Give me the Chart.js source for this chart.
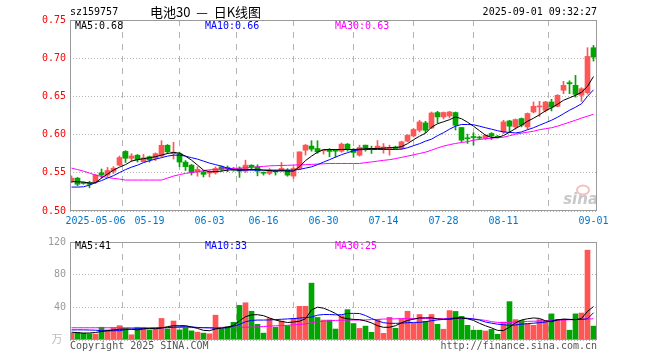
<!DOCTYPE html>
<html>
<head>
<meta charset="utf-8">
<script src="https://cdn.jsdelivr.net/npm/chart.js@4.4.1/dist/chart.umd.min.js"></script>
<style>
  body { margin: 0; background: #fff; }
  #wrap { position: relative; width: 660px; height: 360px; }
  canvas { position: absolute; left: 0; }
  #kline { top: 0; }
  #vol { top: 232px; }
</style>
</head>
<body>
<div id="wrap">
  <canvas id="kline" width="660" height="232"></canvas>
  <canvas id="vol" width="660" height="128"></canvas>
</div>
<script>
// trading days shown on the chart
const dates = ['2025-04-25','2025-04-28','2025-04-29','2025-04-30','2025-05-06','2025-05-07','2025-05-08','2025-05-09',
  '2025-05-12','2025-05-13','2025-05-14','2025-05-15','2025-05-16','2025-05-19','2025-05-20','2025-05-21','2025-05-22','2025-05-23',
  '2025-05-26','2025-05-27','2025-05-28','2025-05-29','2025-05-30','2025-06-03','2025-06-04','2025-06-05','2025-06-06',
  '2025-06-09','2025-06-10','2025-06-11','2025-06-12','2025-06-13','2025-06-16','2025-06-17','2025-06-18','2025-06-19','2025-06-20',
  '2025-06-23','2025-06-24','2025-06-25','2025-06-26','2025-06-27','2025-06-30','2025-07-01','2025-07-02','2025-07-03','2025-07-04',
  '2025-07-07','2025-07-08','2025-07-09','2025-07-10','2025-07-11','2025-07-14','2025-07-15','2025-07-16','2025-07-17','2025-07-18',
  '2025-07-21','2025-07-22','2025-07-23','2025-07-24','2025-07-25','2025-07-28','2025-07-29','2025-07-30','2025-07-31','2025-08-01',
  '2025-08-04','2025-08-05','2025-08-06','2025-08-07','2025-08-08','2025-08-11','2025-08-12','2025-08-13','2025-08-14','2025-08-15',
  '2025-08-18','2025-08-19','2025-08-20','2025-08-21','2025-08-22','2025-08-25','2025-08-26','2025-08-27','2025-08-28','2025-08-29',
  '2025-09-01'];

const tickDates = ['2025-05-06','2025-05-19','2025-06-03','2025-06-16','2025-06-30','2025-07-14','2025-07-28','2025-08-11','2025-09-01'];
const tickLabels = ['2025-05-06','05-19','06-03','06-16','06-30','07-14','07-28','08-11','09-01'];
const priceTicks = [0.50, 0.55, 0.60, 0.65, 0.70, 0.75];
const volTicks = [0, 40, 80, 120];

const open = [0.539,0.543,0.537,0.537,0.538,0.550,0.547,0.552,0.560,0.578,0.569,0.573,0.5645,0.571,0.569,0.572,0.586,0.575,0.575,0.564,
  0.560,0.5513,0.5513,0.5495,0.550,0.5578,0.557,0.5545,0.5557,0.5522,0.560,0.5578,0.5505,0.5492,0.5522,0.5522,0.5535,0.5457,0.5557,0.5796,
  0.585,0.5818,0.5788,0.5796,0.5796,0.5783,0.5875,0.5796,0.5731,0.5862,0.5818,0.5818,0.5818,0.5818,0.5838,0.5818,0.5914,0.5983,0.6057,0.6153,
  0.6087,0.6289,0.6231,0.6244,0.6289,0.6093,0.5953,0.5975,0.596,0.5949,0.6014,0.5975,0.6035,0.6179,0.610,0.621,0.610,0.6296,0.6362,0.6318,
  0.6427,0.637,0.658,0.668,0.6645,0.6515,0.655,0.7137];
const close = [0.543,0.535,0.536,0.535,0.547,0.547,0.553,0.556,0.570,0.569,0.572,0.567,0.5695,0.567,0.575,0.586,0.5775,0.577,0.564,0.558,
  0.5505,0.5544,0.548,0.551,0.5557,0.5544,0.555,0.5535,0.5522,0.560,0.5578,0.5522,0.5495,0.5535,0.5513,0.5557,0.547,0.5557,0.5774,0.5862,
  0.581,0.5774,0.5796,0.578,0.5783,0.5875,0.581,0.5766,0.5831,0.5826,0.5805,0.5849,0.5838,0.5831,0.5818,0.5905,0.599,0.6067,0.6166,0.6057,
  0.6283,0.6231,0.6289,0.6296,0.6123,0.5927,0.5945,0.5962,0.5955,0.599,0.598,0.5965,0.6166,0.611,0.6197,0.6123,0.6276,0.637,0.637,0.6427,
  0.636,0.6514,0.6645,0.6665,0.6527,0.660,0.7023,0.7014];
const high = [0.546,0.544,0.538,0.539,0.548,0.555,0.557,0.558,0.572,0.579,0.575,0.574,0.574,0.572,0.576,0.592,0.587,0.590,0.577,0.566,
  0.561,0.558,0.553,0.553,0.5578,0.559,0.559,0.557,0.5578,0.5665,0.5605,0.5605,0.551,0.5555,0.5535,0.5635,0.5555,0.5578,0.5774,0.587,
  0.592,0.592,0.5805,0.5818,0.5805,0.589,0.5883,0.5818,0.5862,0.5862,0.5849,0.5922,0.5883,0.5862,0.5849,0.5914,0.600,0.6081,0.6188,0.6175,
  0.6296,0.6305,0.6296,0.6305,0.6296,0.6093,0.6005,0.6025,0.598,0.6001,0.6027,0.599,0.6188,0.6188,0.6205,0.6218,0.6283,0.6427,0.6436,0.6436,
  0.6462,0.6523,0.6697,0.6705,0.6775,0.6614,0.7137,0.7167];
const low = [0.537,0.533,0.535,0.5304,0.536,0.543,0.545,0.5492,0.559,0.5635,0.565,0.564,0.564,0.564,0.566,0.571,0.575,0.568,0.558,0.553,
  0.547,0.5455,0.5445,0.5445,0.5483,0.552,0.5515,0.552,0.544,0.5505,0.5535,0.546,0.547,0.5475,0.547,0.5513,0.5455,0.5426,0.5545,0.5731,
  0.5783,0.5755,0.5745,0.571,0.5705,0.577,0.5783,0.5705,0.5718,0.5783,0.5753,0.5809,0.5757,0.5731,0.5809,0.5809,0.5905,0.597,0.6035,0.6023,
  0.6077,0.6153,0.6205,0.6218,0.606,0.5905,0.5884,0.5862,0.5935,0.5935,0.5935,0.5955,0.6014,0.6027,0.6071,0.6101,0.6071,0.6283,0.6238,0.6296,
  0.631,0.6362,0.6536,0.6536,0.649,0.6435,0.653,0.6962];

// moving averages as plotted
const ma5 = [0.5383,0.5383,0.5379,0.5366,0.537,0.5431,0.5483,0.5535,0.5574,0.5607,0.5653,0.5672,0.5685,0.5698,0.5711,0.5731,0.5753,0.5766,0.5757,0.5718,
  0.5666,0.5601,0.5535,0.5513,0.5516,0.5522,0.5535,0.5542,0.5535,0.5542,0.5544,0.5544,0.5535,0.5529,0.5522,0.5529,0.5522,0.5522,0.558,0.566,
  0.5718,0.577,0.5803,0.5805,0.5805,0.5805,0.5805,0.5805,0.5809,0.5816,0.5818,0.5818,0.5822,0.5829,0.5829,0.5842,0.5881,0.5933,0.5979,0.6018,
  0.6097,0.6142,0.6168,0.6195,0.6231,0.6208,0.6162,0.611,0.6051,0.5992,0.5962,0.5962,0.5988,0.6031,0.608,0.6123,0.6175,0.6214,0.626,0.6312,
  0.6351,0.6397,0.6449,0.6482,0.6514,0.6554,0.6632,0.676];
const ma10 = [0.5313,0.5313,0.5317,0.5339,0.5372,0.5398,0.5431,0.5463,0.5503,0.5542,0.5574,0.56,0.5633,0.5659,0.5679,0.5698,0.5718,0.5731,0.5731,0.5718,
  0.5698,0.5679,0.5653,0.5627,0.5607,0.5587,0.5561,0.5542,0.5535,0.5535,0.5535,0.5535,0.5535,0.5535,0.5535,0.5535,0.5535,0.5535,0.5544,0.5561,
  0.5578,0.5607,0.564,0.5672,0.5705,0.5737,0.5763,0.5789,0.5802,0.5805,0.5805,0.5805,0.5805,0.5805,0.5805,0.5809,0.5828,0.5855,0.5881,0.5914,
  0.594,0.5986,0.6025,0.6071,0.611,0.6132,0.6132,0.6129,0.611,0.609,0.6071,0.6051,0.6035,0.6028,0.6022,0.6035,0.6064,0.609,0.6123,0.6155,
  0.6188,0.6227,0.6273,0.6319,0.6358,0.6403,0.6501,0.6586];
const ma30 = [0.5561,0.5542,0.5522,0.5496,0.547,0.5453,0.544,0.5427,0.5418,0.5405,0.5405,0.5405,0.5405,0.5405,0.5405,0.5405,0.5431,0.5457,0.5476,0.5492,
  0.5503,0.5513,0.5529,0.5539,0.5544,0.5548,0.5555,0.5557,0.5561,0.5565,0.557,0.5578,0.5584,0.5591,0.5594,0.5596,0.5598,0.5601,0.5604,0.5607,
  0.561,0.5614,0.5618,0.5622,0.5622,0.5622,0.5622,0.5622,0.5622,0.5633,0.5642,0.5653,0.5663,0.5672,0.5685,0.5702,0.5718,0.5735,0.5753,0.577,
  0.5796,0.5825,0.5849,0.5868,0.5884,0.5897,0.5907,0.5927,0.5936,0.5946,0.5953,0.5959,0.5966,0.5985,0.6005,0.6018,0.6031,0.6044,0.6064,0.6077,
  0.609,0.611,0.6136,0.6162,0.6188,0.6217,0.6241,0.6266];

// volume, 万手
const volume = [8.4,9.2,8.4,7.6,7.2,15.6,12.4,15.2,17.6,13.6,6.4,15.6,15.6,12.4,13.6,26.4,13.6,23.2,12.4,15.6,
  11.2,9.6,8.4,7.6,30.4,13.6,16.4,21.6,42.4,45.6,35.2,19.2,8.4,26.4,15.6,23.2,17.6,26.4,41.2,41.2,
  69.6,27.6,24.4,24.4,13.4,29.8,37.2,20.2,14.2,17,9.4,25.2,8.2,27.8,14.4,25.8,35.2,20.6,31.2,23,
  31.2,19.2,13.2,36,35,29,18,12,12,11,13,7,22,47,25,24,20,18,25,23,
  32,25,25,12,32,33,110,17];
const volMa5 = [9.6,9,8.4,8.6,9.2,10.4,11.5,12.4,13.2,13.6,13,12.4,13.6,14.2,13.8,14.6,16.4,17.4,17.6,17.6,
  16,14.2,11.8,11.4,13.6,14.4,15.8,17.8,23.5,28.5,30.8,31,29.8,27,24.4,22.8,21.4,22,23,26,
  36.8,40.2,39,36,32.5,27.5,26,25.2,25,23.3,21,17.5,15.5,15.6,17.5,21,24,25.5,27,27.2,
  27.2,25.8,25.2,25.2,26.4,27,26,24,20.4,17.4,14.8,11.8,11.6,15.8,21,24.5,26,27,26.4,23.5,
  22.4,24.5,25.6,25.2,24.8,26.4,35,41];
const volMa10 = [12.4,12.4,12.4,12.2,12,11.4,11.2,11.4,11.4,12.8,13.6,13.8,14,14.2,14.6,15,15.2,15.6,16.2,16.4,
  16,15.4,15,14.8,14.4,14.6,15,17,19,22.4,24,24.4,24.4,24.6,25,25.4,25.8,26.2,26.8,27.4,
  28.2,30.4,31.2,31.2,30.8,31,32.5,32.6,32.4,30,26.5,23.4,21.2,20.4,20.4,20.6,21.2,21.6,21.6,22.4,
  23.6,24.6,25.2,26.2,27.2,27.2,26.6,25.6,24.4,22,20.6,19.4,18.6,18,18.4,19.4,20,20.6,21.2,22,
  23.4,25,25.2,25.2,25.2,25.2,26,33.4];
const volMa30 = [15,15,15,15,15,15,15,15,15,15,15,15,15,15,15,15,15.2,15.2,15.2,15.2,
  15.2,15.2,15.2,15.2,15.2,15.5,15.5,15.5,15.6,15.6,15.8,16,16.5,17,17.4,17.6,18,18.6,19,19.8,
  21,22.4,23,23.6,24,24.2,24.4,24.4,24.4,24.6,25,25.2,25.6,25.8,26,26.2,26.2,26.2,26.2,26.2,
  26.2,26.2,26.2,26.2,26.2,26.2,26.2,25.8,25,24,22.5,21.6,21.2,21.5,22,22.4,22.8,23,23.2,23.6,
  24,24.2,24.4,24.8,25,25.2,25.6,26];

const UP = '#ff5555';
const DOWN = '#00a600';
const mono = "'DejaVu Sans Mono', monospace";
const colors = close.map((c, i) => (c >= open[i] ? UP : DOWN));
const tickIdx = tickDates.map(d => dates.indexOf(d));

// 6px per trading day, candle centres on half pixels
const xMin = -0.25;
const xMax = 87.5833;

Chart.defaults.animation = false;

const xy = arr => arr.map((v, i) => ({ x: i, y: v }));

function textPlugin(items) {
  return {
    id: 'texts',
    afterDraw(chart) {
      const ctx = chart.ctx;
      ctx.save();
      ctx.textBaseline = 'middle';
      items.forEach(t => {
        ctx.font = t.font || `10px ${mono}`;
        ctx.fillStyle = t.color || '#000';
        ctx.textAlign = t.align || 'left';
        ctx.fillText(t.text, t.x, t.y);
      });
      ctx.restore();
    },
  };
}

const frame = {
  id: 'frame',
  afterDraw(chart) {
    const { ctx, chartArea: a } = chart;
    ctx.save();
    ctx.strokeStyle = '#9a9a9a';
    ctx.lineWidth = 1;
    ctx.strokeRect(a.left + 0.5, a.top + 0.5, a.right - a.left - 1, a.bottom - a.top - 1);
    ctx.restore();
  },
};

const sinaMark = {
  id: 'sinaMark',
  beforeDatasetsDraw(chart) {
    const ctx = chart.ctx;
    ctx.save();
    ctx.strokeStyle = 'rgba(235,140,140,0.55)';
    ctx.lineWidth = 2;
    ctx.beginPath();
    ctx.ellipse(583, 190, 6, 4.5, 0, 0, Math.PI * 2);
    ctx.stroke();
    ctx.font = "italic bold 15px 'DejaVu Sans'";
    ctx.fillStyle = '#c8c8c8';
    ctx.textAlign = 'right';
    ctx.textBaseline = 'alphabetic';
    ctx.fillText('sina', 598, 204);
    ctx.restore();
  },
};

function lineSet(data, color) {
  return {
    type: 'line',
    data: xy(data),
    borderColor: color,
    borderWidth: 1,
    pointRadius: 0,
    tension: 0,
    fill: false,
    order: 0,
  };
}

function xScale(showLabels) {
  return {
    type: 'linear',
    min: xMin,
    max: xMax,
    offset: false,
    afterBuildTicks: axis => { axis.ticks = tickIdx.map(v => ({ value: v })); },
    afterFit: axis => { axis.height = showLabels ? 21 : 20; },
    ticks: {
      display: showLabels,
      autoSkip: false,
      maxRotation: 0,
      minRotation: 0,
      padding: 4,
      color: '#0077cc',
      font: { family: mono, size: 10 },
      callback: (v, i) => tickLabels[i],
    },
    grid: { color: '#b4b4b4', lineWidth: 1, drawTicks: false },
    border: { display: false, dash: [6, 6] },
  };
}

new Chart(document.getElementById('kline'), {
  type: 'bar',
  data: {
    datasets: [
      {
        data: dates.map((d, i) => ({ x: i, y: [low[i], high[i]] })),
        backgroundColor: colors,
        barThickness: 1,
        grouped: false,
        order: 2,
      },
      {
        data: dates.map((d, i) => ({ x: i, y: [open[i], close[i]] })),
        backgroundColor: colors,
        barThickness: 5,
        minBarLength: 1,
        grouped: false,
        order: 1,
      },
      lineSet(ma5, '#000000'),
      lineSet(ma10, '#0000ff'),
      lineSet(ma30, '#ff00ff'),
    ],
  },
  options: {
    responsive: false,
    devicePixelRatio: 1,
    layout: { padding: { top: 20, right: 63, left: 0, bottom: 0 } },
    plugins: { legend: { display: false }, tooltip: { enabled: false } },
    scales: {
      x: xScale(true),
      y: {
        min: 0.5,
        max: 0.75,
        afterBuildTicks: axis => { axis.ticks = priceTicks.map(v => ({ value: v })); },
        afterFit: axis => { axis.width = 70; },
        ticks: {
          padding: 4,
          color: '#ff0000',
          font: { family: mono, size: 10 },
          callback: v => v.toFixed(2),
        },
        grid: { color: '#b4b4b4', lineWidth: 1, drawTicks: false },
        border: { display: false, dash: [1, 2] },
      },
    },
  },
  plugins: [
    sinaMark,
    frame,
    textPlugin([
      { text: 'sz159757', x: 70, y: 12.5 },
      { text: '电池30  —  日K线图', x: 150, y: 12, font: "13px 'Noto Sans CJK SC'" },
      { text: '2025-09-01 09:32:27', x: 597, y: 12.5, align: 'right' },
      { text: 'MA5:0.68', x: 75, y: 26 },
      { text: 'MA10:0.66', x: 205, y: 26, color: '#0000ff' },
      { text: 'MA30:0.63', x: 335, y: 26, color: '#ff00ff' },
    ]),
  ],
});

new Chart(document.getElementById('vol'), {
  type: 'bar',
  data: {
    datasets: [
      {
        data: xy(volume),
        backgroundColor: colors,
        barThickness: 5,
        grouped: false,
        order: 1,
      },
      lineSet(volMa5, '#000000'),
      lineSet(volMa10, '#0000ff'),
      lineSet(volMa30, '#ff00ff'),
    ],
  },
  options: {
    responsive: false,
    devicePixelRatio: 1,
    layout: { padding: { top: 8, right: 63, left: 0, bottom: 0 } },
    plugins: { legend: { display: false }, tooltip: { enabled: false } },
    scales: {
      x: xScale(false),
      y: {
        min: 0,
        max: 120,
        afterBuildTicks: axis => { axis.ticks = volTicks.map(v => ({ value: v })); },
        afterFit: axis => { axis.width = 70; },
        ticks: {
          padding: 4,
          color: '#999999',
          font: { family: mono, size: 10 },
          callback: v => (v === 0 ? '' : String(v)),
        },
        grid: { color: '#b4b4b4', lineWidth: 1, drawTicks: false },
        border: { display: false, dash: [1, 2] },
      },
    },
  },
  plugins: [
    frame,
    textPlugin([
      { text: 'MA5:41', x: 75, y: 14.5 },
      { text: 'MA10:33', x: 205, y: 14.5, color: '#0000ff' },
      { text: 'MA30:25', x: 335, y: 14.5, color: '#ff00ff' },
      { text: '万', x: 57, y: 107, align: 'center', color: '#bbbbbb', font: "11px 'Noto Sans CJK SC'" },
      { text: 'Copyright 2025 SINA.COM', x: 70, y: 114, color: '#555555' },
      { text: 'http://finance.sina.com.cn', x: 597, y: 114, align: 'right', color: '#555555' },
    ]),
  ],
});
</script>
</body>
</html>
